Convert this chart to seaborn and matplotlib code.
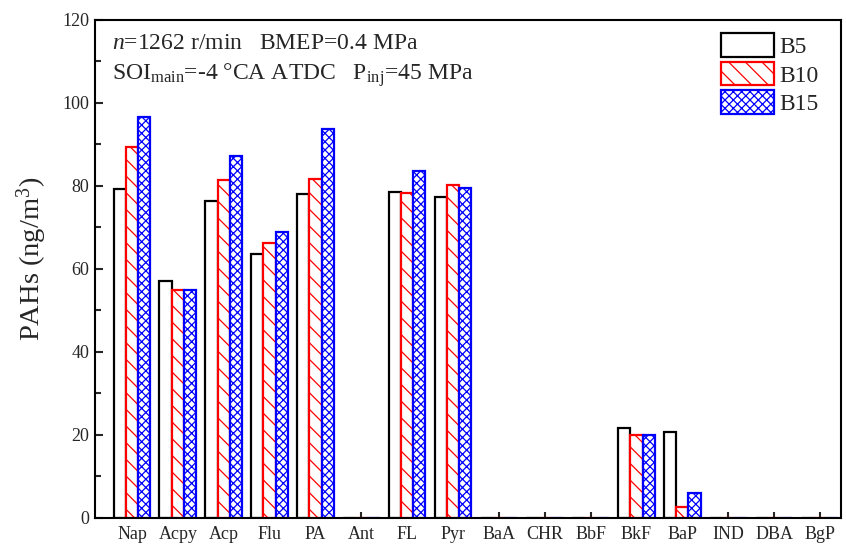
import numpy as np
import pandas as pd
import matplotlib
matplotlib.use("Agg")
import matplotlib.pyplot as plt
from matplotlib.ticker import MultipleLocator
import seaborn as sns

compounds = ["Nap", "Acpy", "Acp", "Flu", "PA", "Ant", "FL", "Pyr",
             "BaA", "CHR", "BbF", "BkF", "BaP", "IND", "DBA", "BgP"]
fuels = ["B5", "B10", "B15"]
b5 = [79.2, 57.2, 76.5, 63.7, 78.1, 0, 78.6, 77.4, 0, 0, 0, 21.8, 20.6, 0, 0, 0]
b10 = [89.4, 55.0, 81.5, 66.3, 81.8, 0, 78.3, 80.2, 0, 0, 0, 20.1, 2.7, 0, 0, 0]
b15 = [96.7, 55.0, 87.3, 69.0, 93.8, 0, 83.5, 79.6, 0, 0, 0, 20.1, 5.9, 0, 0, 0]

edge_colors = ["black", "red", "blue"]
hatches = [None, "\\\\", "xxxx"]

sns.set_style("white")
plt.rcParams["font.family"] = ["Liberation Serif", "DejaVu Serif"]
plt.rcParams["mathtext.fontset"] = "custom"
plt.rcParams["mathtext.rm"] = "Liberation Serif"
plt.rcParams["mathtext.it"] = "Liberation Serif:italic"
plt.rcParams["hatch.linewidth"] = 0.9

df = pd.DataFrame({
    "compound": np.tile(compounds, 3),
    "fuel": np.repeat(fuels, len(compounds)),
    "value": b5 + b10 + b15,
})

fig = plt.figure(figsize=(8.46, 5.49), dpi=100)
ax = fig.add_axes([0.1123, 0.0565, 0.8818, 0.9071])

sns.barplot(data=df, x="compound", y="value", hue="fuel", hue_order=fuels,
            order=compounds, palette=["white"] * 3, width=0.8,
            errorbar=None, legend=False, ax=ax)

for cont, ec, h in zip(ax.containers, edge_colors, hatches):
    for p in cont.patches:
        p.set_facecolor("white")
        p.set_edgecolor(ec)
        p.set_linewidth(1.6)
        if h:
            p.set_hatch(h)

ax.set_xlim(-0.806, 15.46)
ax.set_ylim(0, 120)
ax.yaxis.set_major_locator(MultipleLocator(20))
ax.yaxis.set_minor_locator(MultipleLocator(10))

for s in ax.spines.values():
    s.set_linewidth(1.5)
    s.set_color("black")

ax.tick_params(axis="y", which="major", direction="in", length=6, width=1.5,
               labelsize=13, left=True, right=False, pad=4)
ax.tick_params(axis="y", which="minor", direction="in", length=4, width=1.5,
               left=True, right=False)
ax.tick_params(axis="x", which="major", direction="in", length=4, width=1.5,
               labelsize=13, bottom=True, top=False, pad=6)

ax.set_xlabel("")
ax.set_ylabel(r"PAHs (ng/m$^{3}$)", fontsize=20.5)
ax.yaxis.set_label_coords(-0.062, 0.52)

ax.text(0.023, 0.941, r"$n$=1262 r/min   BMEP=0.4 MPa", transform=ax.transAxes,
        fontsize=17, va="baseline", ha="left")
ax.text(0.023, 0.880, r"SOI$_{\mathrm{main}}$=-4 °CA ATDC   P$_{\mathrm{inj}}$=45 MPa",
        transform=ax.transAxes, fontsize=17, va="baseline", ha="left")

ax.legend(ax.containers, fuels, loc="upper right", frameon=False, fontsize=17,
          handlelength=2.25, handleheight=1.15, labelspacing=0.16,
          handletextpad=0.22, borderaxespad=0.0, borderpad=0.4,
          bbox_to_anchor=(0.982, 0.992))

fig.savefig("out.png", dpi=100)
